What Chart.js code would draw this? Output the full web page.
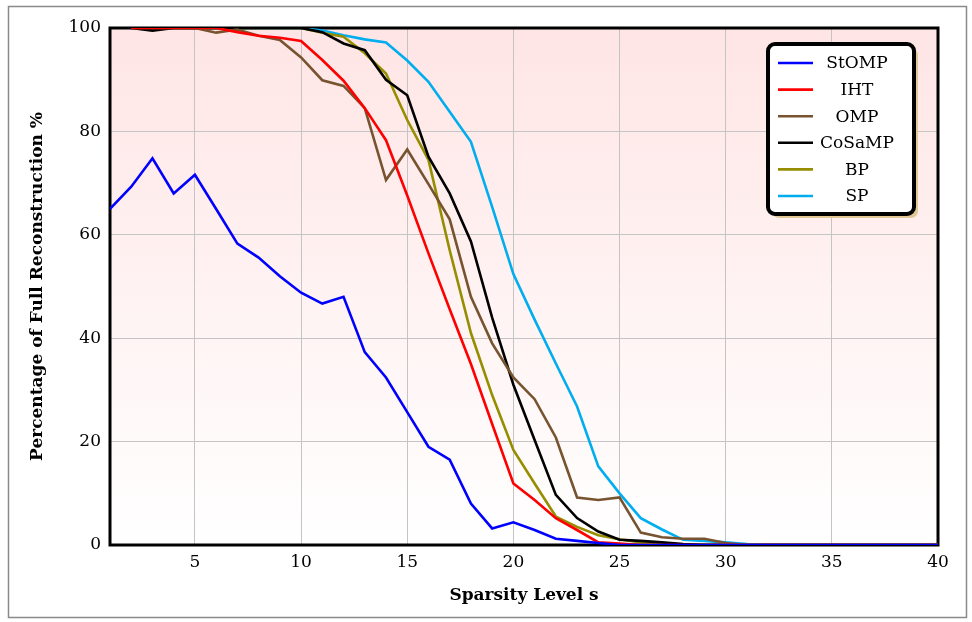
<!DOCTYPE html>
<html>
<head>
<meta charset="utf-8">
<script src="https://cdn.jsdelivr.net/npm/chart.js@4/dist/chart.umd.min.js"></script>
<style>
  body { margin: 0; background: #fff; }
  canvas { display: block; }
</style>
</head>
<body>
<canvas id="myChart" width="972" height="622"></canvas>
<script>
// x values (sparsity level)
const sparsity = [1,2,3,4,5,6,7,8,9,10,11,12,13,14,15,16,17,18,19,20,
                  21,22,23,24,25,26,27,28,29,30,31,32,33,34,35,36,37,38,39,40];
const xTicks = [5,10,15,20,25,30,35,40];
const yTicks = [0,20,40,60,80,100];

const stomp  = [65,69.3,74.8,68,71.6,65,58.3,55.6,52,48.8,46.7,48,37.3,32.4,25.7,19,16.5,8,3.2,4.4,
                2.9,1.2,0.8,0.4,0,0,0,0,0,0,0,0,0,0,0,0,0,0,0,0];
const iht    = [null,100,100,100,100,100,99.2,98.5,98.1,97.5,93.8,89.8,84.5,78.3,67.6,56.4,45.6,35,23.4,11.9,
                8.7,5.2,2.9,0.5,0.3,0,0,0,0,0,0,0,0,0,0,0,0,0,0,0];
const omp    = [null,100,100,100,100,99.1,99.7,98.5,97.7,94.3,89.9,88.8,84.5,70.6,76.5,69.8,63,48,39,32.4,
                28.2,20.8,9.2,8.7,9.2,2.4,1.5,1.2,1.2,0.4,0,0,0,0,0,0,0,0,0,0];
const cosamp = [null,100,99.5,100,100,100,100,100,100,100,99.2,97,95.7,90,87,75.1,68,58.7,44,31,
                20.3,9.7,5.2,2.6,1,0.8,0.5,0.2,0,0,0,0,0,0,0,0,0,0,0,0];
const bp     = [null,100,100,100,100,100,100,100,100,100,99.1,98.3,95.1,91.2,82.2,74.5,57,41,29,18.4,
                11.9,5.5,3.5,1.9,1.1,0.5,0.2,0,0,0,0,0,0,0,0,0,0,0,0,0];
const sp     = [null,100,100,100,100,100,100,100,100,100,99.5,98.6,97.8,97.2,93.7,89.6,83.8,78,65.4,52.4,
                43.6,35.1,26.8,15.2,10,5.2,3,1,0.8,0.5,0.2,0,0,0,0,0,0,0,0,0];

const seriesNames  = ['StOMP','IHT','OMP','CoSaMP','BP','SP'];
const seriesValues = [stomp, iht, omp, cosamp, bp, sp];
const seriesColors = ['#0000ff','#ff0000','#775330','#000000','#968e00','#00aeef'];

const FONT = "'DejaVu Serif', 'Liberation Serif', serif";

function toPoints(values){
    return sparsity.map((x, i) => ({x: x, y: values[i]}));
}

const datasets = seriesNames.map((name, i) => {
    return {
        label: name,
        data: toPoints(seriesValues[i]),
        borderColor: seriesColors[i],
        backgroundColor: seriesColors[i],
        borderWidth: 2.6,
        pointRadius: 0,
        tension: 0,
        fill: false,
        spanGaps: false,
    };
});

// pink gradient behind the plot + black frame
const plotBackground = {
    id: 'plotBackground',
    beforeDraw(chart){
        const {ctx, chartArea: a} = chart;
        const g = ctx.createLinearGradient(0, a.top, 0, a.bottom);
        g.addColorStop(0, 'rgb(255,229,229)');
        g.addColorStop(1, 'rgb(255,255,255)');
        ctx.save();
        ctx.fillStyle = g;
        ctx.fillRect(a.left, a.top, a.right - a.left, a.bottom - a.top);
        ctx.restore();
    },
    beforeDatasetsDraw(chart){
        const {ctx, chartArea: a} = chart;
        ctx.save();
        ctx.strokeStyle = '#000';
        ctx.lineWidth = 3;
        ctx.strokeRect(a.left, a.top, a.right - a.left, a.bottom - a.top);
        ctx.restore();
    }
};

function roundRect(ctx, x, y, w, h, r){
    ctx.beginPath();
    ctx.moveTo(x + r, y);
    ctx.arcTo(x + w, y, x + w, y + h, r);
    ctx.arcTo(x + w, y + h, x, y + h, r);
    ctx.arcTo(x, y + h, x, y, r);
    ctx.arcTo(x, y, x + w, y, r);
    ctx.closePath();
}

// legend box with shadow, and the outer figure border
const boxLegend = {
    id: 'boxLegend',
    afterDraw(chart){
        const ctx = chart.ctx;
        const bx = 768, by = 44, bw = 146, bh = 170;
        ctx.save();
        ctx.fillStyle = '#e3c896';
        roundRect(ctx, bx + 4, by + 4, bw, bh, 7);
        ctx.fill();
        ctx.fillStyle = '#fff';
        roundRect(ctx, bx, by, bw, bh, 7);
        ctx.fill();
        ctx.lineWidth = 4;
        ctx.strokeStyle = '#000';
        ctx.stroke();

        ctx.font = '17px ' + FONT;
        ctx.textAlign = 'center';
        ctx.textBaseline = 'middle';
        chart.data.datasets.forEach((ds, i) => {
            const y = by + 19 + i * 26.6;
            ctx.strokeStyle = ds.borderColor;
            ctx.lineWidth = 2.6;
            ctx.beginPath();
            ctx.moveTo(778, y);
            ctx.lineTo(813, y);
            ctx.stroke();
            ctx.fillStyle = '#000';
            ctx.fillText(ds.label, 857, y + 1);
        });

        ctx.strokeStyle = '#8a8a8a';
        ctx.lineWidth = 1.5;
        ctx.strokeRect(8.5, 6.5, 958, 611);
        ctx.restore();
    }
};

const ctx = document.getElementById('myChart').getContext('2d');
new Chart(ctx, {
    type: 'line',
    data: { datasets: datasets },
    options: {
        responsive: false,
        animation: false,
        devicePixelRatio: 1,
        layout: { padding: { left: 10, right: 34, top: 28, bottom: 8 } },
        plugins: {
            legend: { display: false },
            tooltip: { enabled: false },
        },
        scales: {
            x: {
                type: 'linear',
                min: 1,
                max: 40,
                afterBuildTicks: (scale) => {
                    scale.ticks = xTicks.map(v => ({value: v}));
                },
                afterFit: (scale) => { scale.height = 69; },
                grid: { color: '#c4c4c4', lineWidth: 1, drawTicks: false },
                border: { display: false },
                ticks: {
                    color: '#000',
                    padding: 7,
                    maxRotation: 0,
                    font: { family: FONT, size: 17 },
                },
                title: {
                    display: true,
                    text: 'Sparsity Level s',
                    color: '#000',
                    padding: { top: 8, bottom: 8 },
                    font: { family: FONT, size: 17, weight: 'bold' },
                },
            },
            y: {
                min: 0,
                max: 100,
                afterBuildTicks: (scale) => {
                    scale.ticks = yTicks.map(v => ({value: v}));
                },
                afterFit: (scale) => { scale.width = 100; },
                grid: { color: '#c4c4c4', lineWidth: 1, drawTicks: false },
                border: { display: false },
                ticks: {
                    color: '#000',
                    padding: 9,
                    font: { family: FONT, size: 17 },
                },
                title: {
                    display: true,
                    text: 'Percentage of Full Reconstruction %',
                    color: '#000',
                    padding: { top: 17, bottom: 17 },
                    font: { family: FONT, size: 17, weight: 'bold' },
                },
            },
        },
    },
    plugins: [plotBackground, boxLegend],
});
</script>
</body>
</html>
